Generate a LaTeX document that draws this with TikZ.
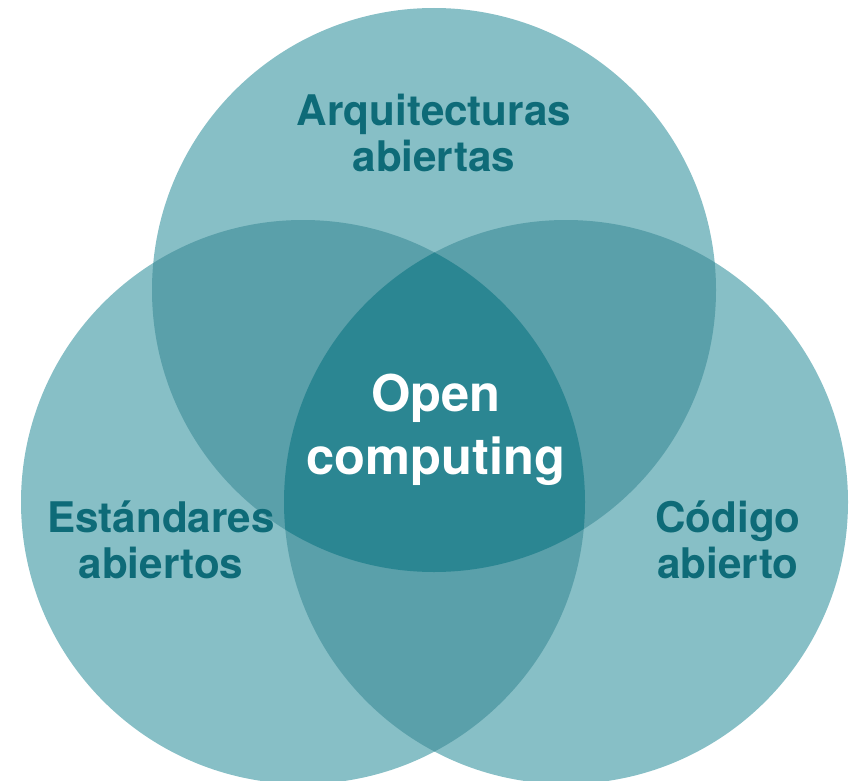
\documentclass[tikz,border=0pt]{standalone}
\usepackage{fontspec}
\setmainfont{TeX Gyre Heros}
\usetikzlibrary{positioning}
\definecolor{tealone}{HTML}{87BFC6}
\definecolor{tealtwo}{HTML}{5AA0AA}
\definecolor{tealthree}{HTML}{2B8692}
\definecolor{tealdark}{HTML}{0E6B78}

\begin{document}
\begin{tikzpicture}[
    outer/.style={font=\fontsize{24}{26}\selectfont\bfseries, text=tealdark, align=center},
    core/.style={font=\fontsize{28.8}{35.8}\selectfont\bfseries, text=white, align=center}]
    \useasboundingbox (0,0) rectangle (17,-15.62);
    \def\rad{5.64}

    % circle centres
    \coordinate (arq) at (8.68,-5.80);
    \coordinate (est) at (6.06,-10.04);
    \coordinate (cod) at (11.32,-10.04);

    \fill[tealone] (arq) circle (\rad) (est) circle (\rad) (cod) circle (\rad);
    \begin{scope}
        \clip (arq) circle (\rad);
        \fill[tealtwo] (est) circle (\rad) (cod) circle (\rad);
    \end{scope}
    \begin{scope}
        \clip (est) circle (\rad);
        \fill[tealtwo] (cod) circle (\rad);
    \end{scope}
    \begin{scope}
        \clip (arq) circle (\rad);
        \clip (est) circle (\rad);
        \fill[tealthree] (cod) circle (\rad);
    \end{scope}

    \node[outer] (arqtext) at (8.68,-2.66) {Arquitecturas\\abiertas};
    \node[outer] (esttext) at (3.22,-10.8) {Estándares\\abiertos};
    \node[outer] (codtext) at (14.56,-10.8) {Código\\abierto};
    \node[core] (open) at (8.72,-8.6) {Open\\computing};
\end{tikzpicture}
\end{document}
